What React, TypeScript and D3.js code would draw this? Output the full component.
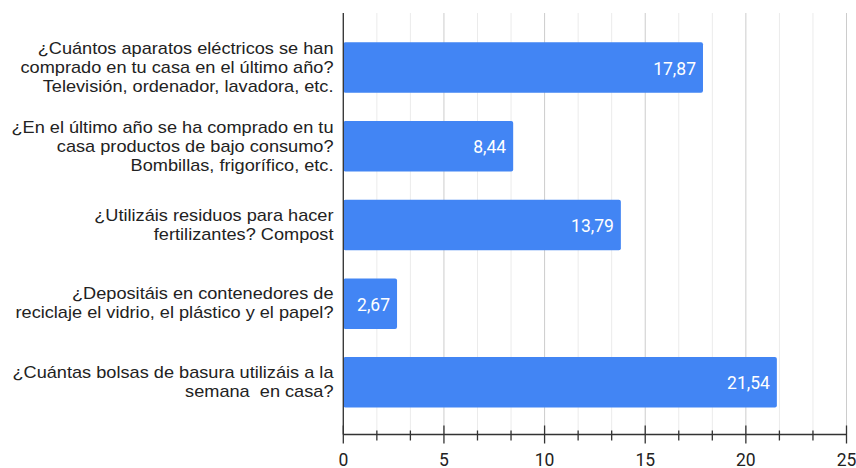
import React from "react";
import * as d3 from "d3";

const categories: string[][] = [
  ["¿Cuántos aparatos eléctricos se han", "comprado en tu casa en el último año?", "Televisión, ordenador, lavadora, etc."],
  ["¿En el último año se ha comprado en tu", "casa productos de bajo consumo?", "Bombillas, frigorífico, etc."],
  ["¿Utilizáis residuos para hacer", "fertilizantes? Compost"],
  ["¿Depositáis en contenedores de", "reciclaje el vidrio, el plástico y el papel?"],
  ["¿Cuántas bolsas de basura utilizáis a la", "semana  en casa?"],
];
const values: number[] = [17.87, 8.44, 13.79, 2.67, 21.54];
const tickValues: number[] = [0, 5, 10, 15, 20, 25];

const W = 856;
const H = 468;
const LABEL_FONT = "'Liberation Sans', Arial, sans-serif";
const NUM_FONT = "Roboto, 'Noto Sans', sans-serif";

export default function App() {
  const x = d3.scaleLinear().domain([0, 25]).range([343.3, 846.5]);
  const ids = categories.map((_, i) => String(i));
  const y = d3.scaleBand<string>().domain(ids).range([28.2, 421.7]).paddingInner(0.358).paddingOuter(0.179);
  const top = 13;
  const axisY = 434.5;
  const grid = d3.range(0, 16).map((i) => (i * 5) / 3);
  const fmt = (v: number) => v.toFixed(2).replace(".", ",");

  return (
    <svg width={W} height={H} style={{ position: "absolute", left: 0, top: 0, background: "#fff" }}>
      {grid.map((g, i) => (
        <line key={"g" + i} x1={x(g)} x2={x(g)} y1={top} y2={axisY}
          stroke={i % 3 === 0 ? "#cccccc" : "#ebebeb"} strokeWidth={1} />
      ))}
      {values.map((v, i) => {
        const y0 = y(ids[i])!;
        const bh = y.bandwidth();
        return (
          <g key={"b" + i}>
            <rect x={x(0)} y={y0} width={x(v) - x(0)} height={bh} rx={2} fill="#4285f4" />
            <text x={x(v) - 7} y={y0 + bh / 2 + 7} textAnchor="end" fill="#ffffff"
              fontFamily={NUM_FONT} fontSize={17.5}>{fmt(v)}</text>
          </g>
        );
      })}
      {categories.map((lines, i) => {
        const c = y(ids[i])! + y.bandwidth() / 2;
        const n = lines.length;
        return (
          <text key={"c" + i} textAnchor="end" fill="#222222" fontFamily={LABEL_FONT} fontSize={16}
            transform="translate(333.5,0) scale(1.136,1)">
            {lines.map((l, j) => (
              <tspan key={j} x={0} y={c + 5.3 + (j - (n - 1) / 2) * 19} style={{ whiteSpace: "pre" }}>{l}</tspan>
            ))}
          </text>
        );
      })}
      <line x1={x(0)} x2={x(0)} y1={top} y2={axisY} stroke="#333" strokeWidth={1.3} />
      <line x1={x(0)} x2={x(25)} y1={axisY} y2={axisY} stroke="#333" strokeWidth={1.3} />
      {grid.map((g, i) => {
        const major = i % 3 === 0;
        return (
          <line key={"t" + i} x1={x(g)} x2={x(g)} y1={axisY - (major ? 9 : 4)} y2={axisY + (major ? 9 : 6)}
            stroke="#333" strokeWidth={1.3} />
        );
      })}
      {tickValues.map((t) => (
        <text key={"tl" + t} x={x(t)} y={466} textAnchor="middle" fill="#222222"
          fontFamily={NUM_FONT} fontSize={17.5}>{t}</text>
      ))}
    </svg>
  );
}
